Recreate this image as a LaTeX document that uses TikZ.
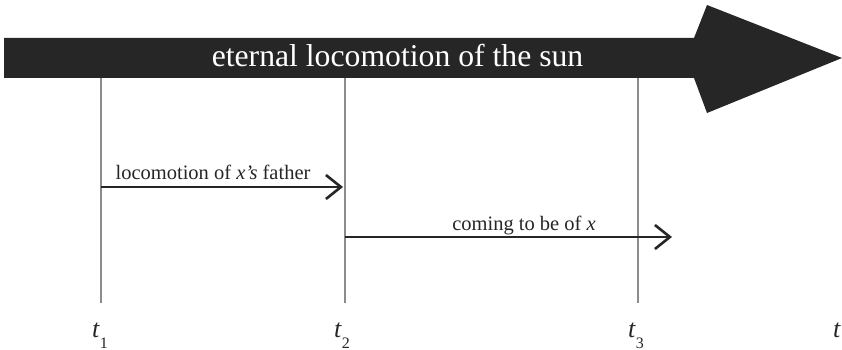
\documentclass[tikz,border=0pt]{standalone}
\usepackage{fontspec}
\setmainfont{Liberation Serif}
\usetikzlibrary{arrows.meta}
\tikzset{
  sunbar/.style={fill=black!85, draw=none},
  suntext/.style={text=white, font=\fontsize{31.7}{34}\selectfont, anchor=base, inner sep=0pt},
  tick/.style={draw=black!45, line width=1.3pt},
  ev/.style={draw=black!85, line width=2pt, -{Straight Barb[length=15pt,width=24pt,line width=2.6pt]}},
  evlabel/.style={font=\fontsize{20.5}{22}\selectfont, anchor=base, inner sep=0pt, text=black!85},
  tlabel/.style={font=\fontsize{26}{28}\selectfont, anchor=base, inner sep=0pt, text=black!85},
}
\newcommand{\tsub}[1]{\textit{t}\raisebox{-11pt}{\fontsize{16}{16}\selectfont #1}}
\begin{document}
\begin{tikzpicture}[x=1pt,y=-1pt]
\useasboundingbox (0,0) rectangle (842,350);
% the sun's locomotion
\fill[sunbar] (4,38) -- (694,38) -- (707,5) -- (842,58) -- (707,113) -- (694,78) -- (4,78) -- cycle;
\node[suntext] (sun) at (397.5,67) {eternal locomotion of the sun};
% time labels
\node[tlabel] (t1) at (100,337) {\tsub{1}};
\node[tlabel] (t2) at (342,337) {\tsub{2}};
\node[tlabel] (t3) at (636,337) {\tsub{3}};
\node[tlabel] (t) at (837,337) {\textit{t}};
% vertical lines
\foreach \k/\x in {1/101,2/345,3/638}{
  \coordinate (top\k) at (\x,78);
  \coordinate (bot\k) at (\x,303);
  \draw[tick] (top\k) -- (bot\k);
}
% events
\coordinate (fa) at (101,187);
\coordinate (fb) at (343,187);
\coordinate (ca) at (345,237);
\coordinate (cb) at (672,237);
\draw[ev] (fa) -- (fb);
\draw[ev] (ca) -- (cb);
\node[evlabel] (father) at (213,179) {locomotion of \textit{x’s} father};
\node[evlabel] (coming) at (524,230) {coming to be of \textit{x}};
\end{tikzpicture}
\end{document}
